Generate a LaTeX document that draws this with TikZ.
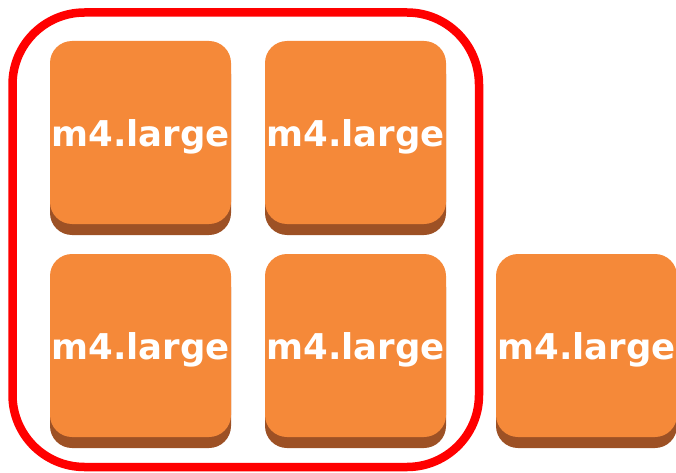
\documentclass[tikz,border=0pt]{standalone}
\usepackage{fontspec}
\setmainfont{DejaVu Sans}
\usetikzlibrary{shadows}
\definecolor{awsorange}{RGB}{245,137,57}
\definecolor{awsbrown}{RGB}{157,81,37}
\definecolor{framered}{RGB}{255,0,0}
\tikzset{
  x=1pt,y=1pt,
  ec2box/.style={rectangle, rounded corners=22pt, fill=awsorange, draw=none,
    minimum width=181pt, minimum height=183pt, inner sep=0pt,
    drop shadow={shadow xshift=0pt, shadow yshift=-11pt, opacity=1, fill=awsbrown, shadow scale=1}},
  ec2label/.style={text=white, font=\bfseries\fontsize{35.5}{40}\selectfont, inner sep=0pt},
  groupframe/.style={draw=framered, line width=8.5pt, rounded corners=72pt}
}
\begin{document}
\begin{tikzpicture}
\useasboundingbox (0,0) rectangle (676,472);
% boxes (pixel coords: y = 472 - py)
\node[ec2box] (b1) at (140.5, 472-132.5) {};
\node[ec2box] (b2) at (355.5, 472-132.5) {};
\node[ec2box] (b3) at (140.5, 472-345.5) {};
\node[ec2box] (b4) at (355.5, 472-345.5) {};
\node[ec2box] (b5) at (586.5, 472-345.5) {};
\node[ec2label] (t1) at ([yshift=-4pt]b1.center) {m4.large};
\node[ec2label] (t2) at ([yshift=-4pt]b2.center) {m4.large};
\node[ec2label] (t3) at ([yshift=-4pt]b3.center) {m4.large};
\node[ec2label] (t4) at ([yshift=-4pt]b4.center) {m4.large};
\node[ec2label] (t5) at ([yshift=-4pt]b5.center) {m4.large};
% group frame
\draw[groupframe] (12.5, 472-12.5) rectangle (479, 472-467);
\end{tikzpicture}
\end{document}
